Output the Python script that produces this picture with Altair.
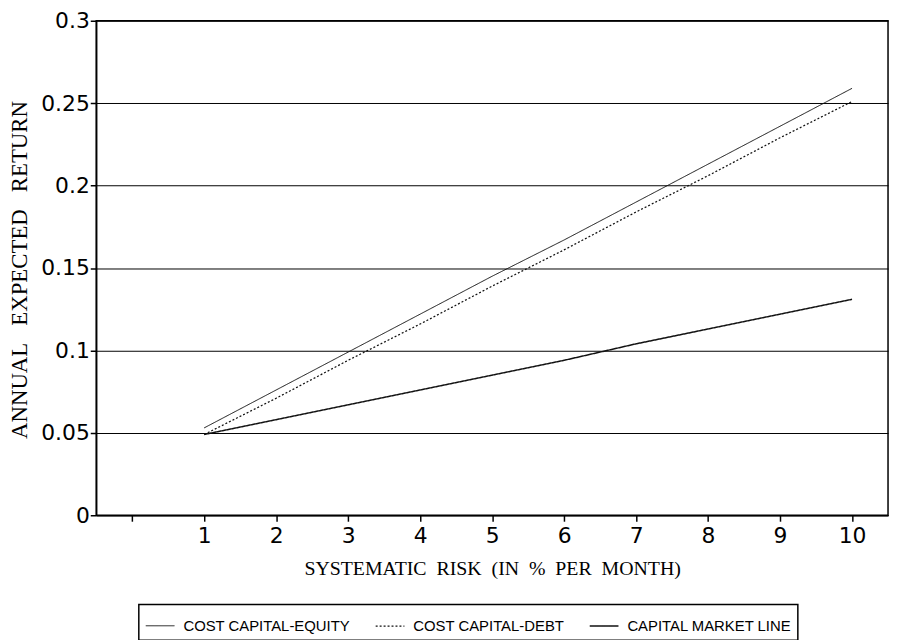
import altair as alt
import pandas as pd

risk = [1, 2, 3, 4, 5, 6, 7, 8, 9, 10]
equity = [0.053, 0.076, 0.099, 0.122, 0.145, 0.167, 0.190, 0.213, 0.236, 0.259]
debt = [0.049, 0.071, 0.094, 0.116, 0.139, 0.161, 0.184, 0.206, 0.229, 0.251]
cml = [0.049, 0.058, 0.067, 0.076, 0.085, 0.094, 0.104, 0.113, 0.122, 0.131]
series_names = ["COST CAPITAL-EQUITY", "COST CAPITAL-DEBT", "CAPITAL MARKET LINE"]
x_ticks = [0, 1, 2, 3, 4, 5, 6, 7, 8, 9, 10]
y_ticks = [0, 0.05, 0.1, 0.15, 0.2, 0.25, 0.3]

NB2 = "\u00a0\u00a0"
NB3 = "\u00a0\u00a0\u00a0"
x_title = NB2.join(["SYSTEMATIC", "RISK", "(IN", "%", "PER", "MONTH)"])
y_title = NB3.join(["ANNUAL", "EXPECTED", "RETURN"])

rows = []
for name, vals in zip(series_names, [equity, debt, cml]):
    for r, v in zip(risk, vals):
        rows.append({"risk": r, "ret": v, "series": name})
df = pd.DataFrame(rows)

leg = alt.Legend(title=None)

chart = alt.Chart(df).mark_line().encode(
    x=alt.X("risk:Q",
            scale=alt.Scale(domain=[-0.5, 10.5], nice=False, zero=False),
            axis=alt.Axis(values=x_ticks,
                          labelExpr="datum.value == 0 ? '' : datum.label",
                          grid=False, tickSize=6, labelPadding=4,
                          labelFont="DejaVu Sans", labelFontSize=22,
                          titleFont="Liberation Serif", titleFontSize=20,
                          titleFontWeight="normal", titleBaseline="alphabetic",
                          titleY=60),
            title=x_title),
    y=alt.Y("ret:Q",
            scale=alt.Scale(domain=[0, 0.3], nice=False),
            axis=alt.Axis(values=y_ticks, format="~g", grid=True,
                          gridColor="black", gridOpacity=1, gridWidth=1,
                          tickSize=6, labelPadding=1,
                          labelFont="DejaVu Sans", labelFontSize=22,
                          titleFont="Liberation Serif", titleFontSize=23,
                          titleFontWeight="normal", titleX=-70, titleY=251,
                          titleBaseline="alphabetic"),
            title=y_title),
    color=alt.Color("series:N",
                    scale=alt.Scale(domain=series_names, range=["#111111", "#111111", "#111111"]),
                    legend=leg, sort=series_names),
    strokeDash=alt.StrokeDash("series:N",
                              scale=alt.Scale(domain=series_names, range=[[1, 0], [2, 2], [1, 0]]),
                              legend=leg, sort=series_names),
    strokeWidth=alt.StrokeWidth("series:N",
                                scale=alt.Scale(domain=series_names, range=[1, 1.5, 2]),
                                legend=leg, sort=series_names),
).properties(
    width=799,
    height=499,
    autosize=alt.AutoSizeParams(type="none"),
    padding={"left": 89, "top": 10, "right": 3, "bottom": 123},
).configure_view(
    stroke="black", strokeWidth=1.5
).configure_axis(
    domainColor="black", tickColor="black", labelColor="black", titleColor="black",
    domainWidth=1.5, tickWidth=1.5
).configure_legend(
    orient="none", legendX=43, legendY=589, direction="horizontal", columns=3,
    strokeColor="black", strokeWidth=1.5, padding=6, symbolType="stroke",
    symbolSize=841, symbolStrokeColor="black", labelOffset=8, columnPadding=22,
    labelFont="Liberation Sans", labelFontSize=15, labelColor="black", labelLimit=300,
    cornerRadius=0
)

chart.save("out.html", embed_options={"renderer": "svg", "actions": False})
